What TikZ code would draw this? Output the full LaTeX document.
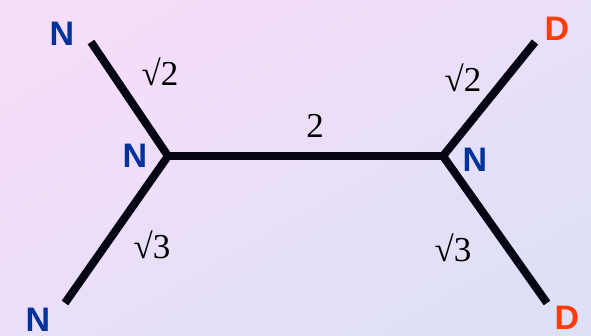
\documentclass[tikz,border=0pt]{standalone}
\usepackage{fontspec}
\setmainfont{Liberation Serif}
\newfontfamily\labsans{Liberation Sans}
\newfontfamily\labserif{Liberation Serif}
\begin{document}
\begin{tikzpicture}[x=1pt,y=-1pt,
  bond/.style={line width=8pt, draw={rgb,255:red,5;green,5;blue,20}, line join=miter},
  atomN/.style={font=\labsans\bfseries\fontsize{34}{34}\selectfont, text={rgb,255:red,0;green,50;blue,155}, inner sep=0pt},
  atomD/.style={font=\labsans\bfseries\fontsize{34}{34}\selectfont, text={rgb,255:red,255;green,60;blue,10}, inner sep=0pt},
  wlab/.style={font=\labserif\fontsize{35}{35}\selectfont, text=black, inner sep=0pt}]
\definecolor{bgA}{RGB}{246,221,250}
\definecolor{bgB}{RGB}{222,224,248}
\shade[shading=axis, top color=bgA, bottom color=bgB, shading angle=30] (0,0) rectangle (591,336);
\useasboundingbox (0,0) rectangle (591,336);
% skeleton coordinates
\coordinate (L) at (168,156);
\coordinate (R) at (443,156);
\coordinate (ul) at (91,42);
\coordinate (ll) at (65,303);
\coordinate (ur) at (535,42);
\coordinate (lr) at (547,303);
\draw[bond] (ul) -- (L) -- (ll);
\draw[bond] (L) -- (R);
\draw[bond] (ur) -- (R) -- (lr);
% atom labels
\node[atomN] (nul) at (62,34) {N};
\node[atomN] (nL) at (135,156) {N};
\node[atomN] (nll) at (38,320) {N};
\node[atomN] (nR) at (475,160) {N};
\node[atomD] (dur) at (557,29) {D};
\node[atomD] (dlr) at (567,318) {D};
% weights
\node[wlab] (w1) at (160,72) {√2};
\node[wlab] (w2) at (152,245) {√3};
\node[wlab] (w3) at (315,126) {2};
\node[wlab] (w4) at (463,78) {√2};
\node[wlab] (w5) at (453,248) {√3};
\end{tikzpicture}
\end{document}
